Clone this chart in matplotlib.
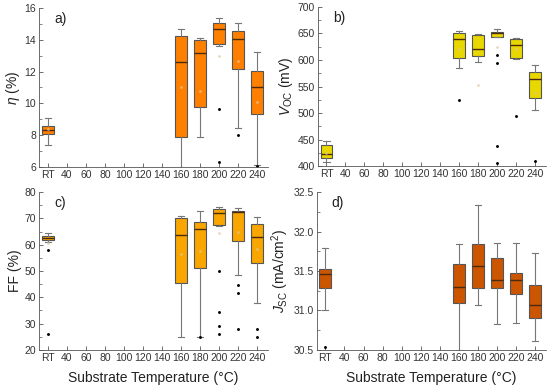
import matplotlib
matplotlib.use('Agg')
import matplotlib.pyplot as plt
from matplotlib.ticker import AutoMinorLocator

plt.rcParams['font.family'] = 'Liberation Sans'
plt.rcParams['mathtext.fontset'] = 'custom'
plt.rcParams['mathtext.rm'] = 'Liberation Sans'
plt.rcParams['mathtext.it'] = 'Liberation Sans:italic'

# substrate temperature (RT plotted at 20)
temps = [20, 160, 180, 200, 220, 240]
xticks = [20, 40, 60, 80, 100, 120, 140, 160, 180, 200, 220, 240]
xticklabels = ['RT', '40', '60', '80', '100', '120', '140', '160', '180', '200', '220', '240']

# box stats per panel: whislo, q1, med, q3, whishi
eta_lo = [7.38, 6.0, 7.91, 13.59, 8.46, 6.13]
eta_q1 = [8.08, 7.89, 9.76, 13.71, 12.14, 9.30]
eta_med = [8.32, 12.62, 13.2, 14.7, 14.03, 11.02]
eta_q3 = [8.6, 14.24, 13.98, 15.07, 14.59, 12.01]
eta_hi = [9.1, 14.7, 14.13, 15.41, 15.07, 13.21]
eta_fl = [[], [], [], [9.66, 6.3], [8.02], [6.05]]
eta_mean = [8.4, 11.0, 10.8, 13.0, 12.7, 10.1]

voc_lo = [407, 585, 596, 643, 601, 506]
voc_q1 = [415, 604, 607, 644, 604, 528]
voc_med = [422, 640, 621, 651, 628, 564]
voc_q3 = [440, 650, 648, 653, 640, 577]
voc_hi = [447, 654, 649, 658, 641, 591]
voc_fl = [[], [524], [], [610, 594, 437, 406], [494], [409]]
voc_mean = [425, 620, 553, 625, 620, 537]

ff_lo = [61.1, 25.0, 25.0, 67.2, 48.6, 37.8]
ff_q1 = [61.8, 45.4, 51.0, 67.6, 61.5, 53.0]
ff_med = [62.6, 63.6, 66.0, 71.9, 72.6, 63.0]
ff_q3 = [63.4, 70.2, 68.5, 73.4, 72.9, 68.0]
ff_hi = [64.5, 71.0, 72.7, 74.2, 74.0, 70.5]
ff_fl = [[58.0, 26.0], [], [24.8], [50.1, 34.3, 29.1, 26.1], [44.5, 41.5, 27.8], [27.8, 25.0]]
ff_mean = [60.5, 56.5, 57.5, 64.5, 65.0, 58.5]

jsc_lo = [31.0, 30.5, 31.07, 30.83, 30.84, 30.62]
jsc_q1 = [31.29, 31.1, 31.29, 31.28, 31.21, 30.91]
jsc_med = [31.46, 31.3, 31.56, 31.38, 31.38, 31.07]
jsc_q3 = [31.53, 31.59, 31.84, 31.66, 31.47, 31.32]
jsc_hi = [31.79, 31.84, 32.33, 31.86, 31.86, 31.73]
jsc_fl = [[30.54], [], [], [], [], []]

panels = [
    ('a)', r'$\eta$ (%)', (6, 16), [6, 8, 10, 12, 14, 16], '#ff8000',
     eta_lo, eta_q1, eta_med, eta_q3, eta_hi, eta_fl, eta_mean, '{:g}'),
    ('b)', r'$V_{\rm OC}$ (mV)', (400, 700), [400, 450, 500, 550, 600, 650, 700], '#e8d800',
     voc_lo, voc_q1, voc_med, voc_q3, voc_hi, voc_fl, voc_mean, '{:g}'),
    ('c)', 'FF (%)', (20, 80), [20, 30, 40, 50, 60, 70, 80], '#f9a600',
     ff_lo, ff_q1, ff_med, ff_q3, ff_hi, ff_fl, ff_mean, '{:g}'),
    ('d)', r'$J_{\rm SC}$ (mA/cm$^2$)', (30.5, 32.5), [30.5, 31.0, 31.5, 32.0, 32.5], '#cc5500',
     jsc_lo, jsc_q1, jsc_med, jsc_q3, jsc_hi, jsc_fl, None, '{:.1f}'),
]

positions = [
    [0.071, 0.570, 0.416, 0.409],
    [0.578, 0.572, 0.414, 0.410],
    [0.071, 0.098, 0.416, 0.407],
    [0.576, 0.098, 0.416, 0.407],
]

fig = plt.figure(figsize=(5.5, 3.88), dpi=100)

for pos, p in zip(positions, panels):
    tag, ylab, ylim, yticks, col, lo, q1, med, q3, hi, fl, mean, fmt = p
    ax = fig.add_axes(pos)
    stats = []
    for i in range(len(temps)):
        stats.append({'whislo': lo[i], 'q1': q1[i], 'med': med[i], 'q3': q3[i],
                      'whishi': hi[i], 'fliers': fl[i]})
    ax.bxp(stats, positions=temps, widths=12.5, patch_artist=True, showfliers=True,
           boxprops=dict(facecolor=col, edgecolor='#555555', linewidth=0.8),
           medianprops=dict(color='#4a2a10', linewidth=1.0),
           whiskerprops=dict(color='#777777', linewidth=0.8),
           capprops=dict(color='#777777', linewidth=0.8),
           flierprops=dict(marker='o', markersize=2.1, markerfacecolor='black',
                           markeredgewidth=0, linestyle='none'),
           capwidths=6.5, manage_ticks=False)
    if mean is not None:
        ax.plot(temps, mean, 'o', ms=1.2, color='#e0c8a0', alpha=0.5, zorder=5)
    ax.set_xlim(11, 251)
    ax.set_ylim(*ylim)
    ax.set_xticks(xticks)
    ax.set_xticklabels(xticklabels, fontsize=7.5, color='#333333')
    ax.set_yticks(yticks)
    ax.set_yticklabels([fmt.format(v) for v in yticks], fontsize=7.5, color='#333333')
    ax.yaxis.set_minor_locator(AutoMinorLocator(2))
    ax.tick_params(direction='in', length=3, width=0.6, color='#555555', pad=2)
    ax.tick_params(which='minor', direction='in', length=1.8, width=0.5, color='#555555')
    for s in ['top', 'right']:
        ax.spines[s].set_visible(False)
    for s in ['left', 'bottom']:
        ax.spines[s].set_linewidth(0.6)
        ax.spines[s].set_color('#555555')
    ax.set_ylabel(ylab, fontsize=10, labelpad=2, color='#222222')
    ax.text(0.065, 0.93, tag, transform=ax.transAxes, fontsize=10, va='center', color='#222222')
    if tag in ('c)', 'd)'):
        ax.set_xlabel('Substrate Temperature (°C)', fontsize=10, labelpad=6, color='#222222')

fig.savefig('out.png', dpi=100)
